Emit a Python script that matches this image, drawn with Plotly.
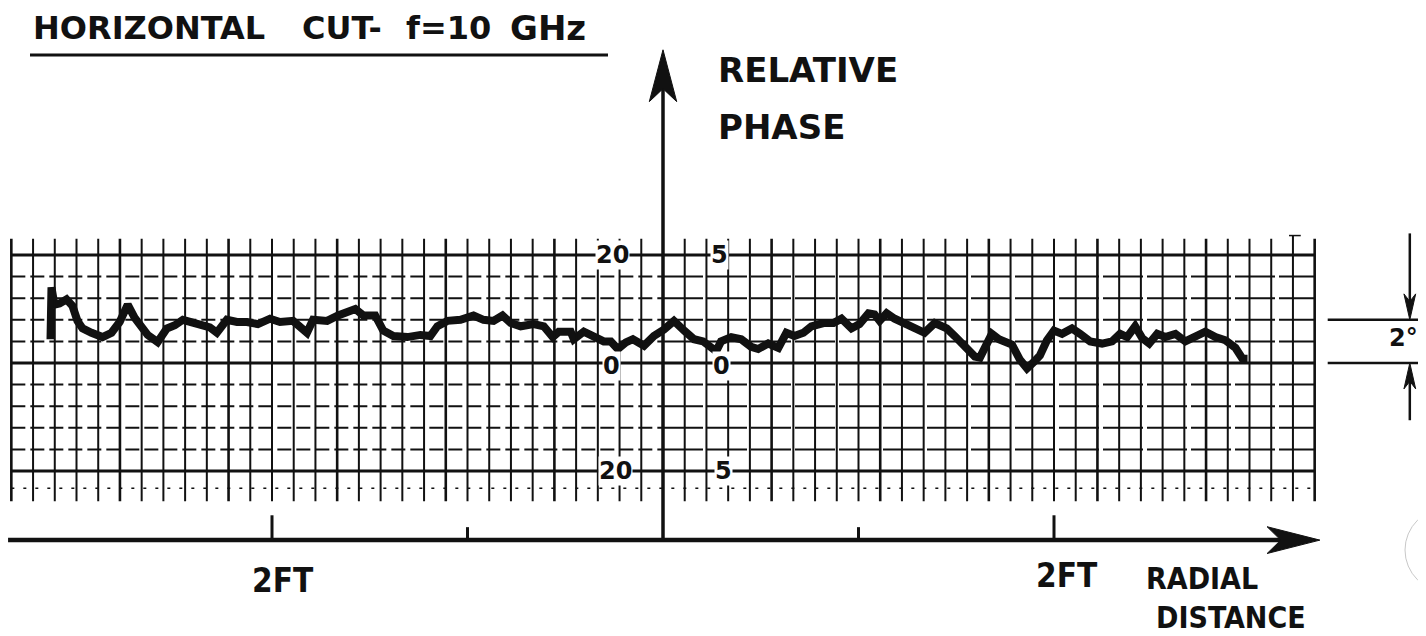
import plotly.graph_objects as go

# ---------------- data ----------------
# radial distance in feet (0 = centre line), relative phase in degrees
distance_ft = [
    -3.133, -3.128, -3.113, -3.087, -3.051, -3.021, -2.995, -2.969, -2.923, -2.867,
    -2.821, -2.779, -2.738, -2.703, -2.636, -2.585, -2.538, -2.497, -2.456, -2.410,
    -2.359, -2.318, -2.282, -2.231, -2.179, -2.128, -2.072, -2.010, -1.959,
    -1.892, -1.821, -1.790, -1.718, -1.662, -1.615, -1.574, -1.533, -1.472, -1.431,
    -1.379, -1.308, -1.241, -1.190, -1.154, -1.103, -1.036, -0.969, -0.918, -0.867,
    -0.821, -0.779, -0.728,
    -0.662, -0.610, -0.564, -0.533, -0.472, -0.456, -0.405, -0.354, -0.303, -0.267,
    -0.231, -0.190, -0.154, -0.097, -0.046, 0.005, 0.056, 0.108, 0.159, 0.205,
    0.246, 0.272, 0.297, 0.349, 0.400, 0.451, 0.487,
    0.538, 0.590, 0.631, 0.672, 0.718, 0.759, 0.821, 0.872, 0.913, 0.964,
    1.005, 1.051, 1.082, 1.108, 1.144, 1.185, 1.236, 1.287, 1.338, 1.390,
    1.451, 1.492, 1.544, 1.595, 1.621, 1.646, 1.682, 1.718, 1.759,
    1.785, 1.826, 1.862, 1.897, 1.928, 1.964, 2.000, 2.041, 2.092, 2.133,
    2.185, 2.246, 2.297, 2.338, 2.374, 2.415, 2.451, 2.487, 2.528, 2.569,
    2.621, 2.672, 2.723, 2.774, 2.826, 2.877, 2.928, 2.964, 2.990,
]
phase_deg = [
    1.10, 3.50, 2.70, 2.75, 2.95, 2.65, 1.95, 1.60, 1.40, 1.20,
    1.40, 1.90, 2.70, 2.10, 1.30, 0.97, 1.60, 1.75, 2.00, 1.85,
    1.75, 1.65, 1.40, 2.00, 1.90, 1.90, 1.80, 2.05, 1.90,
    1.95, 1.40, 2.00, 1.95, 2.20, 2.40, 2.50, 2.20, 2.20, 1.50,
    1.25, 1.20, 1.30, 1.25, 1.70, 1.95, 2.00, 2.20, 2.00, 1.95,
    2.20, 1.85, 1.70,
    1.80, 1.70, 1.20, 1.45, 1.45, 1.10, 1.45, 1.25, 1.00, 1.00,
    0.65, 0.95, 1.10, 0.80, 1.25, 1.55, 1.95, 1.50, 1.10, 1.00,
    0.75, 0.55, 1.00, 1.20, 1.10, 0.75, 0.65,
    0.90, 0.70, 1.40, 1.25, 1.40, 1.70, 1.85, 1.85, 2.05, 1.60,
    1.80, 2.30, 2.25, 1.95, 2.30, 2.05, 1.80, 1.60, 1.40, 1.85,
    1.60, 1.25, 0.70, 0.30, 0.25, 0.80, 1.35, 1.10, 0.90,
    0.85, 0.15, -0.25, 0.05, 0.35, 1.05, 1.50, 1.35, 1.60, 1.35,
    1.00, 0.90, 1.00, 1.35, 1.20, 1.70, 1.15, 0.90, 1.35, 1.20,
    1.35, 1.00, 1.20, 1.45, 1.20, 1.05, 0.70, 0.20, 0.20,
]
assert len(distance_ft) == len(phase_deg)

# distance-axis ticks (feet) and their labels
tick_ft = [-2, -1, 0, 1, 2]
tick_tall = [True, False, True, False, True]
dist_labels = ["2FT", "2FT"]

# chart-paper scale labels (two printed scales: 20 and 5)
scale_label_text = ["20", "5", "0", "0", "20", "5"]
scale_label_ft = [-0.256, 0.29, -0.266, 0.297, -0.245, 0.31]
scale_label_deg = [5.0, 5.0, -0.12, -0.15, -5.0, -5.0]

# ---------------- layout geometry ----------------
# the page body adds an 8 px margin, so the figure is drawn 8 px in from the corner
OFF = 8
W_PAGE, H_PAGE = 1426, 636
W, H = W_PAGE - OFF, H_PAGE - OFF
PX_PER_FT = 195.5
CENTER_PX = 663.0 - OFF
PX_PER_DEG = 21.6
ZERO_PX = 363.0 - OFF

X_RANGE = [-CENTER_PX / PX_PER_FT, (W - CENTER_PX) / PX_PER_FT]
Y_RANGE = [-(H - ZERO_PX) / PX_PER_DEG, ZERO_PX / PX_PER_DEG]

DIV_PER_FT = 9          # chart-paper divisions per foot
HALF_DIVS = 30          # divisions each side of the centre line
GRID_TOP = 5.75
GRID_BOTTOM = -6.4
AXIS_Y = -8.2           # distance axis position (deg units)
INK = "#111111"


def px(xp):
    return (xp - OFF) / W


def py(yp):
    return 1 - (yp - OFF) / H


shapes = []

# vertical grid lines
for k in range(-HALF_DIVS, HALF_DIVS + 1):
    if k == 0:
        continue
    xv = k / DIV_PER_FT
    top = GRID_TOP
    if k == HALF_DIVS - 1:
        top = 5.9
    shapes.append(dict(type="line", x0=xv, x1=xv, y0=GRID_BOTTOM, y1=top,
                       line=dict(color=INK, width=2.6 if k % 5 == 0 else 2)))

grid_left = -HALF_DIVS / DIV_PER_FT
grid_right = HALF_DIVS / DIV_PER_FT

# horizontal grid lines
for v in range(5, -7, -1):
    if v in (5, 0, -5):
        shapes.append(dict(type="line", x0=grid_left, x1=grid_right, y0=v, y1=v,
                           line=dict(color=INK, width=3)))
    elif v == -6:
        shapes.append(dict(type="line", x0=grid_left, x1=grid_right, y0=v + 0.2, y1=v + 0.2,
                           line=dict(color=INK, width=1.5, dash="3px,9px")))
    else:
        shapes.append(dict(type="line", x0=grid_left, x1=0, y0=v, y1=v,
                           line=dict(color=INK, width=2, dash="14px,5px")))
        shapes.append(dict(type="line", x0=0, x1=grid_right, y0=v, y1=v,
                           line=dict(color=INK, width=2, dash="40px,4px")))

# small cap mark at top right of grid
capx = (HALF_DIVS - 1) / DIV_PER_FT
shapes.append(dict(type="line", x0=capx - 0.02, x1=capx + 0.04, y0=5.9, y1=5.9,
                   line=dict(color=INK, width=1.5)))

# vertical (relative phase) axis with arrow
V_TOP = 14.5
shapes.append(dict(type="line", x0=0, x1=0, y0=AXIS_Y, y1=V_TOP - 1.0,
                   line=dict(color=INK, width=3.5)))
shapes.append(dict(type="path",
                   path=f"M 0,{V_TOP} L -0.07,{V_TOP-2.4} L 0,{V_TOP-1.8} L 0.07,{V_TOP-2.4} Z",
                   fillcolor=INK, line=dict(color=INK, width=1)))

# horizontal (radial distance) axis with arrow
AX_LEFT = -3.35
AX_TIP = 3.36
shapes.append(dict(type="line", x0=AX_LEFT, x1=AX_TIP - 0.1, y0=AXIS_Y, y1=AXIS_Y,
                   line=dict(color=INK, width=4.5)))
shapes.append(dict(type="path",
                   path=f"M {AX_TIP},{AXIS_Y} L {AX_TIP-0.27},{AXIS_Y+0.62} "
                        f"L {AX_TIP-0.2},{AXIS_Y} L {AX_TIP-0.27},{AXIS_Y-0.62} Z",
                   fillcolor=INK, line=dict(color=INK, width=1)))
for t, tall in zip(tick_ft, tick_tall):
    if t == 0:
        continue
    shapes.append(dict(type="line", x0=t, x1=t, y0=AXIS_Y,
                       y1=AXIS_Y + (1.15 if tall else 0.6),
                       line=dict(color=INK, width=3)))

# title underline
shapes.append(dict(type="line", xref="paper", yref="paper", x0=px(30), x1=px(608),
                   y0=py(55), y1=py(55), line=dict(color=INK, width=3)))

# 2 degree calibration marker (right side)
MX0, MX1 = 3.40, 3.95
MA = 3.82
for yv in (0, 2):
    shapes.append(dict(type="line", x0=MX0, x1=MX1, y0=yv, y1=yv,
                       line=dict(color=INK, width=2.5)))
shapes.append(dict(type="line", x0=MA, x1=MA, y0=6.0, y1=2.8, line=dict(color=INK, width=2.5)))
shapes.append(dict(type="path", path=f"M {MA},2 L {MA-0.03},3.2 L {MA},2.85 L {MA+0.03},3.2 Z",
                   fillcolor=INK, line=dict(color=INK, width=1)))
shapes.append(dict(type="line", x0=MA, x1=MA, y0=-2.65, y1=-0.8, line=dict(color=INK, width=2.5)))
shapes.append(dict(type="path", path=f"M {MA},0 L {MA-0.03},-1.2 L {MA},-0.85 L {MA+0.03},-1.2 Z",
                   fillcolor=INK, line=dict(color=INK, width=1)))

# faint punched-hole edge at right border
shapes.append(dict(type="circle", xref="paper", yref="paper",
                   x0=px(1405), x1=px(1490), y0=py(592), y1=py(508),
                   line=dict(color="#c8c8c8", width=1)))

annotations = []

LETTER = "DejaVu Sans"
NARROW = "Liberation Sans Narrow, DejaVu Sans Condensed, Roboto Condensed, DejaVu Sans, sans-serif"


def text(s, xp, yp, size, family=LETTER, xanchor="left", bold=True):
    if bold:
        s = f"<b>{s}</b>"
    annotations.append(dict(text=s, xref="paper", yref="paper", x=px(xp), y=py(yp),
                            xanchor=xanchor, yanchor="middle", showarrow=False,
                            font=dict(family=family, size=size, color=INK)))


text("HORIZONTAL", 31, 28, 32)
text("CUT-", 300, 28, 32)
text("f=10", 404, 28, 32)
text("GHz", 508, 28, 34)
text("RELATIVE", 716, 70, 34)
text("PHASE", 716, 127, 34)
text(dist_labels[0], 250, 580, 33, NARROW)
text(dist_labels[1], 1034, 575, 33, NARROW)
text("RADIAL", 1144, 578, 30, NARROW)
text("DISTANCE", 1154, 617, 30, NARROW)
text("2°", 1387, 338, 24)

for s, xf, yd in zip(scale_label_text, scale_label_ft, scale_label_deg):
    annotations.append(dict(text=f"<b>{s}</b>", x=xf, y=yd, xref="x", yref="y", showarrow=False,
                            xanchor="center", yanchor="middle", bgcolor="white",
                            borderpad=0, font=dict(family="DejaVu Sans", size=24, color=INK)))

fig = go.Figure()
fig.add_trace(go.Scatter(x=distance_ft, y=phase_deg, mode="lines",
                         line=dict(color=INK, width=8), hoverinfo="skip"))

fig.update_layout(
    width=W, height=H,
    margin=dict(l=0, r=0, t=0, b=0),
    paper_bgcolor="white", plot_bgcolor="white",
    showlegend=False,
    xaxis=dict(range=X_RANGE, visible=False, fixedrange=True),
    yaxis=dict(range=Y_RANGE, visible=False, fixedrange=True),
    shapes=shapes,
    annotations=annotations,
)

fig.write_html("out.html")
